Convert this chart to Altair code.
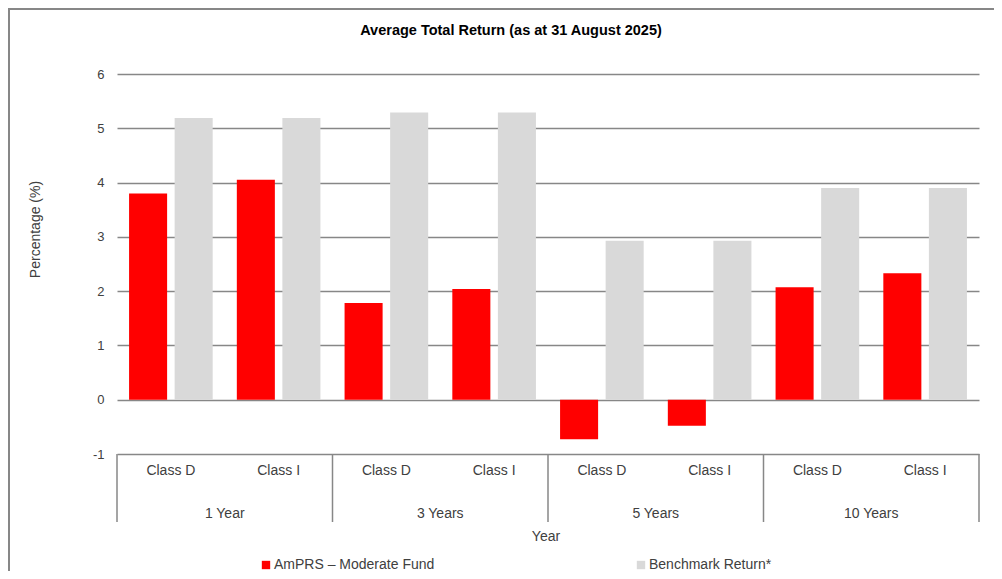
import altair as alt
import pandas as pd

years = ["1 Year", "1 Year", "3 Years", "3 Years", "5 Years", "5 Years", "10 Years", "10 Years"]
classes = ["Class D", "Class I"] * 4
fund = [3.80, 4.05, 1.78, 2.04, -0.73, -0.48, 2.07, 2.33]
bench = [5.19, 5.19, 5.29, 5.29, 2.93, 2.93, 3.90, 3.90]
series_names = ["AmPRS \u2013 Moderate Fund", "Benchmark Return*"]
series_colors = ["#FF0000", "#D9D9D9"]
title_text = "Average Total Return (as at 31 August 2025)"

keys = [f"{y}|{c}" for y, c in zip(years, classes)]
rows = []
for k, y, c, f, b in zip(keys, years, classes, fund, bench):
    rows.append({"key": k, "year": y, "cls": c, "series": series_names[0], "value": f})
    rows.append({"key": k, "year": y, "cls": c, "series": series_names[1], "value": b})
df = pd.DataFrame(rows)
cats = pd.DataFrame({"key": keys, "year": years, "cls": classes})
first_in_year = cats[cats["cls"] == "Class D"]
second_in_year = cats[cats["cls"] == "Class I"]
last_key = cats.tail(1)

W, H = 862, 380
FONT = "Liberation Sans"
TXT = "#404040"
GRID = "#878787"

xscale = alt.Scale(domain=keys, paddingInner=0, paddingOuter=0)
yscale = alt.Scale(domain=[-1, 6], nice=False, zero=False)

bars = alt.Chart(df).mark_bar().encode(
    x=alt.X("key:N", scale=xscale, axis=None, sort=keys),
    xOffset=alt.XOffset("series:N", scale=alt.Scale(domain=series_names, paddingInner=0.165, paddingOuter=0.265)),
    y=alt.Y("value:Q", scale=yscale,
            axis=alt.Axis(values=[-1, 0, 1, 2, 3, 4, 5, 6], grid=True, gridColor=GRID, gridWidth=1.5,
                          domain=False, ticks=False, labelPadding=13, labelFontSize=13, labelFont=FONT,
                          labelColor=TXT, labelExpr="'' + datum.value",
                          title="Percentage (%)", titleFont=FONT, titleFontSize=14,
                          titleFontWeight="normal", titleColor=TXT, titleAngle=270, titleX=-82, titleY=155,
                          titleAlign="center", titleBaseline="middle")),
    y2=alt.datum(0),
    color=alt.Color("series:N", scale=alt.Scale(domain=series_names, range=series_colors),
                    legend=alt.Legend(title=None, orient="none", legendX=142, legendY=484, direction="horizontal",
                                      symbolType="square", symbolSize=70, symbolStrokeWidth=0,
                                      labelFont=FONT, labelFontSize=14, labelColor=TXT, labelLimit=400,
                                      columnPadding=199, gridAlign="all", labelOffset=1)),
)

sep_left = alt.Chart(first_in_year).mark_rule(color=GRID, strokeWidth=1.5).encode(
    x=alt.X("key:N", scale=xscale, bandPosition=0, sort=keys),
    y=alt.value(H),
    y2=alt.value(448),
)
sep_right = alt.Chart(last_key).mark_rule(color=GRID, strokeWidth=1.5).encode(
    x=alt.X("key:N", scale=xscale, bandPosition=1, sort=keys),
    y=alt.value(H),
    y2=alt.value(448),
)
class_text = alt.Chart(cats).mark_text(font=FONT, fontSize=14, color=TXT, baseline="middle").encode(
    x=alt.X("key:N", scale=xscale, bandPosition=0.5, sort=keys),
    y=alt.value(397),
    text="cls:N",
)
year_text = alt.Chart(second_in_year).mark_text(font=FONT, fontSize=14, color=TXT, baseline="middle").encode(
    x=alt.X("key:N", scale=xscale, bandPosition=0, sort=keys),
    y=alt.value(440),
    text="year:N",
)
xtitle = alt.Chart(pd.DataFrame({"t": ["Year"]})).mark_text(font=FONT, fontSize=14, color=TXT, baseline="middle").encode(
    x=alt.value(429), y=alt.value(463), text="t:N"
)
title = alt.Chart(pd.DataFrame({"t": [title_text]})).mark_text(
    font=FONT, fontSize=14.5, fontWeight="bold", color="#000000", baseline="middle"
).encode(x=alt.value(394), y=alt.value(-43), text="t:N")
border_left = alt.Chart(pd.DataFrame({"a": [0]})).mark_rule(color=GRID, strokeWidth=2).encode(
    x=alt.value(-108), y=alt.value(-65), y2=alt.value(H + 120)
)
border_top = alt.Chart(pd.DataFrame({"a": [0]})).mark_rule(color=GRID, strokeWidth=2).encode(
    x=alt.value(-109), x2=alt.value(W + 20), y=alt.value(-65)
)

chart = alt.layer(bars, sep_left, sep_right, class_text, year_text, xtitle, title, border_left, border_top).properties(
    width=W, height=H,
    autosize=alt.AutoSizeParams(type="none"),
    padding={"left": 109, "top": 66, "right": 15, "bottom": 117},
).configure_view(stroke=None)

chart.save("out.html", embed_options={"renderer": "svg", "actions": False})
